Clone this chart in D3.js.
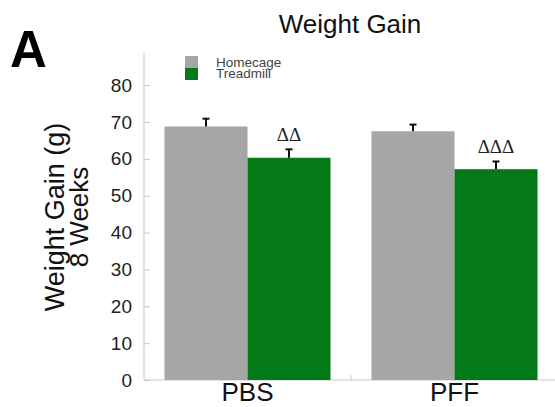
<!DOCTYPE html>
<html>
<head>
<meta charset="utf-8">
<script src="https://cdn.jsdelivr.net/npm/d3@7"></script>
<style>
  html, body { margin: 0; padding: 0; background: #fff; }
  svg { display: block; font-family: "Liberation Sans", Arial, Helvetica, sans-serif; }
</style>
</head>
<body>
<svg id="chart" width="555" height="407"></svg>
<script>
// Groups, conditions and measured values (grams gained over 8 weeks)
const groups = ["PBS", "PFF"];
const conditions = ["Homecage", "Treadmill"];
const homecageMeans = [68.8, 67.5];
const homecageErr = [2.1, 1.8];
const treadmillMeans = [60.3, 57.2];
const treadmillErr = [2.3, 2.1];
const significance = ["", "\u0394\u0394", "", "\u0394\u0394\u0394"]; // per bar, group-major order
const yTicks = [0, 10, 20, 30, 40, 50, 60, 70, 80];

const colors = { Homecage: "#a6a6a6", Treadmill: "#037a17" };

const rows = [];
groups.forEach((g, i) => {
  rows.push({ group: g, cond: "Homecage", mean: homecageMeans[i], err: homecageErr[i] });
  rows.push({ group: g, cond: "Treadmill", mean: treadmillMeans[i], err: treadmillErr[i] });
});
rows.forEach((r, i) => r.sig = significance[i]);

const svg = d3.select("#chart");
const axisColor = "#c8c8c8";

const y = d3.scaleLinear().domain([0, 89]).range([380, 52]);
const x = d3.scaleBand().domain(groups).range([144, 558]).padding(0);
const xSub = d3.scaleBand().domain(conditions).range([0, x.bandwidth()])
  .paddingInner(0).paddingOuter(0.247);

// Panel letter and title
svg.append("text").attr("x", 10).attr("y", 67)
  .attr("font-size", 51).attr("font-weight", "bold").attr("fill", "#000").text("A");
svg.append("text").attr("x", 350).attr("y", 33).attr("text-anchor", "middle")
  .attr("font-size", 26).attr("fill", "#111").text("Weight Gain");

// Y axis
const yAxis = d3.axisLeft(y).tickValues(yTicks).tickSizeInner(-6).tickSizeOuter(0).tickPadding(12);
const gy = svg.append("g").attr("transform", "translate(144,0)").call(yAxis);
gy.select(".domain").attr("stroke", axisColor).attr("d", `M0,${y(89)}V${y(0)}`);
gy.selectAll(".tick line").attr("stroke", axisColor);
gy.selectAll(".tick text").attr("font-size", 19).attr("fill", "#222")
  .attr("font-family", "Liberation Sans, Arial, sans-serif");

// X axis: baseline with a single divider tick between groups
svg.append("line").attr("x1", 144).attr("x2", 555).attr("y1", y(0)).attr("y2", y(0))
  .attr("stroke", axisColor).attr("stroke-width", 1.2);
svg.append("line").attr("x1", x("PFF")).attr("x2", x("PFF"))
  .attr("y1", y(0)).attr("y2", y(0) - 5).attr("stroke", axisColor);
svg.selectAll(".xlabel").data(groups).enter().append("text")
  .attr("class", "xlabel")
  .attr("x", d => x(d) + x.bandwidth() / 2)
  .attr("y", 401)
  .attr("text-anchor", "middle")
  .attr("font-size", 26).attr("fill", "#111")
  .text(d => d);

// Y axis title
const yt = svg.append("text").attr("transform", "translate(0,217) rotate(-90)")
  .attr("text-anchor", "middle").attr("font-size", 27).attr("fill", "#111");
yt.append("tspan").attr("x", 0).attr("y", 64).text("Weight Gain (g)");
yt.append("tspan").attr("x", 0).attr("y", 88).attr("font-size", 26).text("8 Weeks");

// Bars
const barX = d => x(d.group) + xSub(d.cond);
svg.selectAll(".bar").data(rows).enter().append("rect")
  .attr("class", "bar")
  .attr("x", barX)
  .attr("y", d => y(d.mean))
  .attr("width", xSub.bandwidth())
  .attr("height", d => y(0) - y(d.mean))
  .attr("fill", d => colors[d.cond]);

// Error bars (upper only)
const eb = svg.selectAll(".err").data(rows).enter().append("g").attr("class", "err")
  .attr("stroke", "#111").attr("stroke-width", 2);
eb.append("line")
  .attr("x1", d => barX(d) + xSub.bandwidth() / 2).attr("x2", d => barX(d) + xSub.bandwidth() / 2)
  .attr("y1", d => y(d.mean)).attr("y2", d => y(d.mean + d.err));
eb.append("line")
  .attr("x1", d => barX(d) + xSub.bandwidth() / 2 - 3.5).attr("x2", d => barX(d) + xSub.bandwidth() / 2 + 3.5)
  .attr("y1", d => y(d.mean + d.err)).attr("y2", d => y(d.mean + d.err));

// Significance markers
svg.selectAll(".sig").data(rows.filter(d => d.sig)).enter().append("text")
  .attr("class", "sig")
  .attr("x", d => barX(d) + xSub.bandwidth() / 2)
  .attr("y", d => y(d.mean + d.err) - 8)
  .attr("text-anchor", "middle")
  .attr("font-size", 19).attr("fill", "#222")
  .attr("font-family", "Liberation Serif, Times New Roman, serif")
  .text(d => d.sig);

// Legend
const legend = svg.append("g").attr("transform", "translate(185,56)");
conditions.forEach((c, i) => {
  legend.append("rect").attr("x", 0).attr("y", i * 12).attr("width", 13).attr("height", 12)
    .attr("fill", colors[c]);
  legend.append("text").attr("x", 31).attr("y", 10.5 + i * 11.8)
    .attr("font-size", 13.5).attr("fill", "#444").text(c);
});
</script>
</body>
</html>
